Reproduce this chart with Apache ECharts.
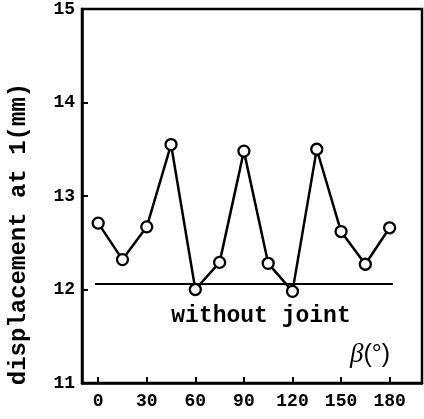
<!DOCTYPE html>
<html><head><meta charset="utf-8">
<script src="https://cdn.jsdelivr.net/npm/echarts@6/dist/echarts.min.js"></script>
<style>html,body{margin:0;padding:0;background:#fff}#c{width:424px;height:419px}</style>
</head><body><div id="c"></div>
<script>
const betaDeg = [0,15,30,45,60,75,90,105,120,135,150,165,180];
const displacement = [12.71,12.32,12.67,13.55,12.0,12.29,13.48,12.28,11.98,13.5,12.62,12.27,12.66];
const withoutJoint = 12.06;
const withoutJointSpan = [-2, 182];
const xTicks = [0,30,60,90,120,150,180];
const yTitle = 'displacement at 1(mm)';

const chart = echarts.init(document.getElementById('c'), null, {renderer:'canvas'});
const labelFont = {fontFamily:'Liberation Mono', fontWeight:'bold', fontSize:18, color:'#000'};
chart.setOption({
  animation:false,
  backgroundColor:'#fff',
  grid:{left:82, right:2, top:9, bottom:36, show:true, borderColor:'#000', borderWidth:2.5, containLabel:false},
  xAxis:{type:'value', min:-10, max:200,
    axisLine:{onZero:false, lineStyle:{color:'#000', width:2.5}},
    axisTick:{inside:true, length:6, customValues:xTicks, lineStyle:{color:'#000', width:2}},
    axisLabel:Object.assign({customValues:xTicks, margin:9}, labelFont),
    splitLine:{show:false}},
  yAxis:{type:'value', min:11, max:15, interval:1,
    axisLine:{onZero:false, lineStyle:{color:'#000', width:2.5}},
    axisTick:{inside:true, length:6, lineStyle:{color:'#000', width:2}},
    axisLabel:Object.assign({margin:7}, labelFont),
    splitLine:{show:false}},
  series:[
    {type:'line', data:withoutJointSpan.map(x=>[x, withoutJoint]), symbol:'none', z:1,
      lineStyle:{color:'#000', width:2}},
    {type:'line', data:betaDeg.map((b,i)=>[b, displacement[i]]), z:3,
      symbol:'circle', symbolSize:11,
      itemStyle:{color:'#fff', borderColor:'#000', borderWidth:2.3},
      lineStyle:{color:'#000', width:2.5}}
  ],
  graphic:[
    {type:'text', x:261, y:316, style:{text:'without joint', fontFamily:'Liberation Mono', fontWeight:'bold', fontSize:23, fill:'#000', align:'center', verticalAlign:'middle'}},
    {type:'text', x:370, y:355, style:{text:'{b|β}{p|(°)}', align:'center', verticalAlign:'middle',
      rich:{b:{fontFamily:'Liberation Serif', fontStyle:'italic', fontSize:27, fill:'#000'}, p:{fontFamily:'Liberation Sans', fontSize:25, fill:'#000'}}}},
    {type:'text', x:19, y:234, rotation:Math.PI/2, style:{text:yTitle, fontFamily:'Liberation Mono', fontWeight:'bold', fontSize:24, fill:'#000', align:'center', verticalAlign:'middle'}}
  ]
});
</script></body></html>
